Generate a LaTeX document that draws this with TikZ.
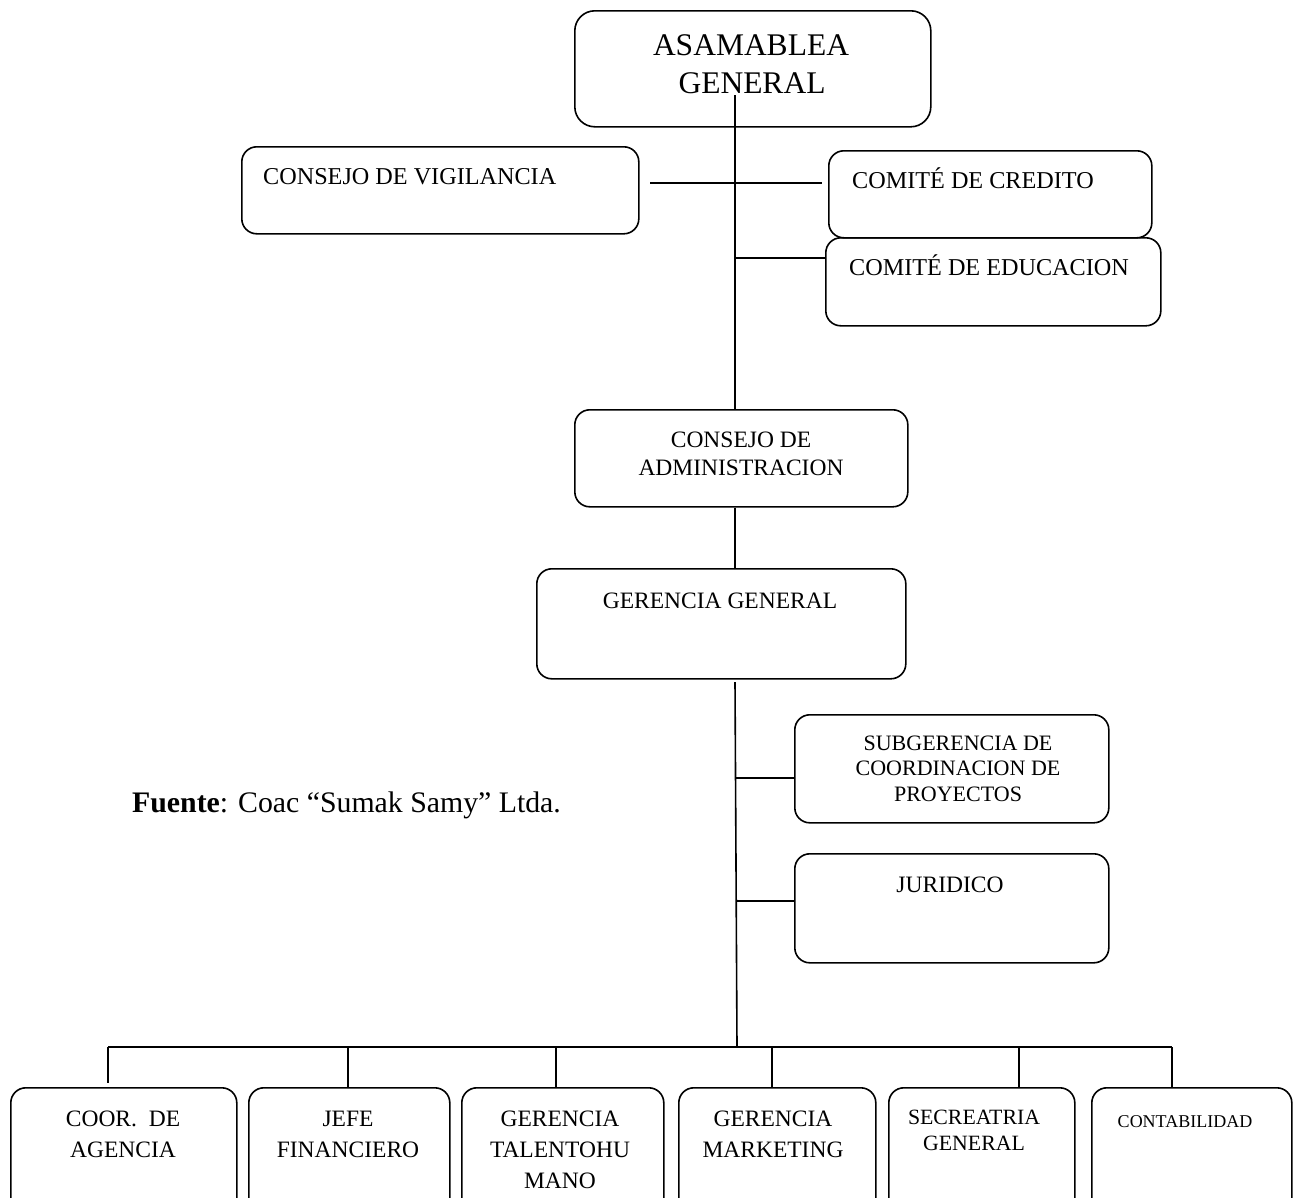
\documentclass[tikz,border=0pt]{standalone}
\usepackage{fontspec}
\setmainfont{Liberation Serif}
\begin{document}
\begin{tikzpicture}[x=1pt,y=-1pt,
  box/.style={draw, line width=1.6pt, rounded corners=15pt, inner sep=0pt, anchor=north west},
  txt/.style={inner sep=0pt, anchor=base, align=center},
  ln/.style={line width=1.6pt},
  fbase/.style={font=\fontsize{23.5}{31}\selectfont},
  fleft/.style={font=\fontsize{24.2}{31}\selectfont},
  fsub/.style={font=\fontsize{22}{25.5}\selectfont},
]
\path[use as bounding box, clip] (0,0) rectangle (1295,1197);
% boxes
\node[box, rounded corners=20pt, minimum width=356pt, minimum height=116pt] (asam) at (574,10) {};
\node[txt, font=\fontsize{31.5}{38}\selectfont] (asamt) at (751,55) {ASAMABLEA};
\node[txt, font=\fontsize{31.5}{38}\selectfont] (asamt2) at (752,93) {GENERAL};

\node[box, minimum width=397pt, minimum height=87pt] (cvig) at (241,146) {};
\node[txt, fleft, anchor=base west] (cvigt) at (263,184) {CONSEJO DE VIGILANCIA};

\node[box, minimum width=323pt, minimum height=87pt] (ccred) at (828,150) {};
\node[txt, fleft, anchor=base west] (ccredt) at (852,188) {COMITÉ DE CREDITO};

\node[box, minimum width=335pt, minimum height=88pt] (ceduc) at (825,237) {};
\node[txt, fleft, anchor=base west] (ceduct) at (849,275) {COMITÉ DE EDUCACION};

\node[box, minimum width=333pt, minimum height=97pt] (cadm) at (574,409) {};
\node[txt, fbase] (cadmt) at (741,447) {CONSEJO DE};
\node[txt, fbase] (cadmt2) at (741,475) {ADMINISTRACION};

\node[box, minimum width=369pt, minimum height=110pt] (gg) at (536,568) {};
\node[txt, fbase] (ggt) at (720,608) {GERENCIA GENERAL};

\node[box, minimum width=314pt, minimum height=108pt] (sub) at (794,714) {};
\node[txt, fsub] (subt1) at (958,750) {SUBGERENCIA DE};
\node[txt, fsub] (subt2) at (958,775.5) {COORDINACION DE};
\node[txt, fsub] (subt3) at (958,801) {PROYECTOS};

\node[box, minimum width=314pt, minimum height=109pt] (jur) at (794,853) {};
\node[txt, fbase] (jurt) at (950,892) {JURIDICO};

% Fuente
\node[inner sep=0pt, anchor=base west, font=\fontsize{29.8}{34}\selectfont] (fuente) at (132,812) {\textbf{Fuente}: Coac “Sumak Samy” Ltda.};

% bottom boxes
\node[box, minimum width=226pt, minimum height=130pt] (b1) at (10,1087) {};
\node[txt, fbase] (b1t) at (123,1126) {COOR.~~DE};
\node[txt, fbase] (b1t2) at (123,1157) {AGENCIA};

\node[box, minimum width=201pt, minimum height=130pt] (b2) at (248,1087) {};
\node[txt, fbase] (b2t) at (348,1126) {JEFE};
\node[txt, fbase] (b2t2) at (348,1157) {FINANCIERO};

\node[box, minimum width=202pt, minimum height=130pt] (b3) at (461,1087) {};
\node[txt, fbase] (b3t) at (560,1126) {GERENCIA};
\node[txt, fbase] (b3t2) at (560,1157) {TALENTOHU};
\node[txt, fbase] (b3t3) at (560,1188) {MANO};

\node[box, minimum width=197pt, minimum height=130pt] (b4) at (678,1087) {};
\node[txt, fbase] (b4t) at (773,1126) {GERENCIA};
\node[txt, fbase] (b4t2) at (773,1157) {MARKETING};

\node[box, minimum width=186pt, minimum height=130pt] (b5) at (888,1087) {};
\node[txt, font=\fontsize{21.8}{26}\selectfont] (b5t) at (974,1124) {SECREATRIA};
\node[txt, font=\fontsize{21.8}{26}\selectfont] (b5t2) at (974,1150) {GENERAL};

\node[box, minimum width=200pt, minimum height=130pt] (b6) at (1091,1087) {};
\node[txt, font=\fontsize{18}{22}\selectfont] (b6t) at (1185,1127) {CONTABILIDAD};

% connectors
\coordinate (a0) at (735,95);
\draw[ln] (a0) -- (a0 |- cadm.north);
\coordinate (h1) at (650,183);
\coordinate (h2) at (822,183);
\draw[ln] (h1) -- (h2);
\coordinate (e0) at (735,258);
\draw[ln] (e0) -- (e0 -| ceduc.west);
\draw[ln] (a0 |- cadm.south) -- (a0 |- gg.north);
\coordinate (g0) at (735,682);
\coordinate (bus) at (737,1047);
\draw[ln] (g0) -- (bus);
\coordinate (s0) at (736,778);
\draw[ln] (s0) -- (s0 -| sub.west);
\coordinate (j0) at (736,901);
\draw[ln] (j0) -- (j0 -| jur.west);
\coordinate (busL) at (108,1047);
\coordinate (busR) at (1172,1047);
\draw[ln] (busL) -- (busR);
\coordinate (d1) at (108,1083);
\draw[ln] (busL) -- (d1);
\draw[ln] (348,1047) -- (348,1087 |- b2.north);
\draw[ln] (556,1047) -- (556,1087 |- b3.north);
\draw[ln] (772,1047) -- (772,1087 |- b4.north);
\draw[ln] (1019,1047) -- (1019,1087 |- b5.north);
\draw[ln] (busR) -- (busR |- b6.north);
\end{tikzpicture}
\end{document}
